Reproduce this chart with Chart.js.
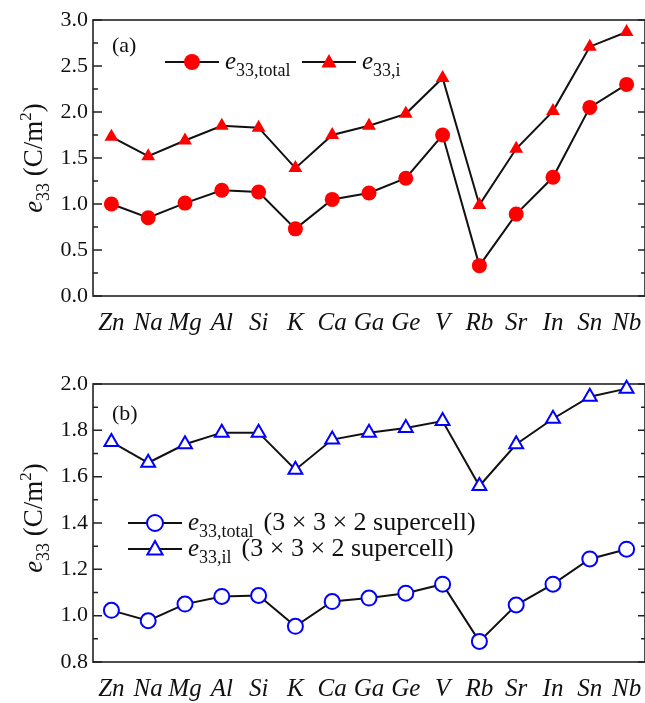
<!DOCTYPE html>
<html>
<head>
<meta charset="utf-8">
<script src="https://cdn.jsdelivr.net/npm/chart.js@4/dist/chart.umd.min.js"></script>
<style>
  html, body { margin: 0; background: #fff; overflow: hidden; }
  .panel { position: absolute; left: 0; width: 645px; }
  .panel canvas { display: block; }
  #wrapA { top: 0; height: 345px; }
  #wrapB { top: 345px; height: 358px; }
</style>
</head>
<body>
<div class="panel" id="wrapA"><canvas id="panelA"></canvas></div>
<div class="panel" id="wrapB"><canvas id="panelB"></canvas></div>
<script>
// dopants along the x axis
const elements = ["Zn", "Na", "Mg", "Al", "Si", "K", "Ca", "Ga", "Ge", "V", "Rb", "Sr", "In", "Sn", "Nb"];

// panel (a)
const totalA = [1.00, 0.85, 1.01, 1.15, 1.13, 0.73, 1.05, 1.12, 1.28, 1.75, 0.33, 0.89, 1.29, 2.05, 2.30];
const ionicA = [1.73, 1.52, 1.69, 1.85, 1.83, 1.39, 1.75, 1.85, 1.98, 2.37, 0.99, 1.60, 2.01, 2.71, 2.87];

// panel (b), 3x3x2 supercell
const totalB = [1.023, 0.978, 1.05, 1.083, 1.087, 0.954, 1.061, 1.076, 1.097, 1.136, 0.889, 1.046, 1.136, 1.245, 1.287];
const ionicB = [1.75, 1.66, 1.74, 1.79, 1.79, 1.63, 1.76, 1.79, 1.81, 1.84, 1.56, 1.74, 1.85, 1.945, 1.98];

const serif = "'Liberation Serif', 'DejaVu Serif', serif";
const cellText = "(3 \u00d7 3 \u00d7 2 supercell)";

// text with an italic e and a subscript
function drawSub(ctx, x, y, sub, rest, size) {
    ctx.font = "italic " + size + "px " + serif;
    ctx.fillText("e", x, y);
    x += ctx.measureText("e").width;
    ctx.font = "18px " + serif;
    ctx.fillText(sub, x, y + 7);
    x += ctx.measureText(sub).width;
    if (rest) {
        ctx.font = "26px " + serif;
        ctx.fillText(rest, x + 10, y);
    }
}

function drawMarker(ctx, x, y, style, color, filled, r) {
    ctx.beginPath();
    if (style === "circle") {
        ctx.arc(x, y, r, 0, Math.PI * 2);
    } else {
        ctx.moveTo(x, y - r);
        ctx.lineTo(x + r * 0.95, y + r * 0.7);
        ctx.lineTo(x - r * 0.95, y + r * 0.7);
        ctx.closePath();
    }
    if (filled) {
        ctx.fillStyle = color;
        ctx.fill();
    } else {
        ctx.fillStyle = "#fff";
        ctx.fill();
        ctx.lineWidth = 2;
        ctx.strokeStyle = color;
        ctx.stroke();
    }
}

function makeDecor(cfg) {
    return {
        id: "decor",
        beforeDatasetsDraw(chart) {
            const ctx = chart.ctx;
            const a = chart.chartArea;
            const y = chart.scales.y;
            ctx.save();

            // frame
            ctx.strokeStyle = "#222";
            ctx.lineWidth = 1.6;
            ctx.strokeRect(a.left, a.top, a.right - a.left, a.bottom - a.top);

            // inward ticks, major and minor
            ctx.lineWidth = 1.5;
            const ticks = y.ticks;
            ticks.forEach(function(t, i) {
                const p = y.getPixelForValue(t.value);
                ctx.beginPath();
                ctx.moveTo(a.left, p); ctx.lineTo(a.left + 9, p);
                ctx.moveTo(a.right, p); ctx.lineTo(a.right - 7, p);
                ctx.stroke();
                if (i < ticks.length - 1) {
                    const m = y.getPixelForValue((t.value + ticks[i + 1].value) / 2);
                    ctx.beginPath();
                    ctx.moveTo(a.left, m); ctx.lineTo(a.left + 5, m);
                    ctx.moveTo(a.right, m); ctx.lineTo(a.right - 4, m);
                    ctx.stroke();
                }
            });
            ctx.restore();
        },
        afterDraw(chart) {
            const ctx = chart.ctx;
            const a = chart.chartArea;
            ctx.save();

            // panel letter
            ctx.fillStyle = "#111";
            ctx.textBaseline = "alphabetic";
            ctx.font = "22px " + serif;
            ctx.fillText(cfg.letter, a.left + 19, a.top + cfg.letterY);

            // legend
            cfg.legend.forEach(function(item) {
                ctx.strokeStyle = "#111";
                ctx.lineWidth = 2;
                ctx.beginPath();
                ctx.moveTo(item.x, item.y);
                ctx.lineTo(item.x + 54, item.y);
                ctx.stroke();
                drawMarker(ctx, item.x + 27, item.y, item.style, item.color, item.filled, 8);
                ctx.fillStyle = "#111";
                drawSub(ctx, item.x + 60, item.y + 7, item.sub, item.rest, 25);
            });

            // y axis title: e33 (C/m2)
            ctx.translate(42, (a.top + a.bottom) / 2 + cfg.titleShift);
            ctx.rotate(-Math.PI / 2);
            ctx.font = "italic 27px " + serif;
            const w1 = ctx.measureText("e").width;
            ctx.font = "18px " + serif;
            const w2 = ctx.measureText("33").width;
            ctx.font = "27px " + serif;
            const w3 = ctx.measureText(" (C/m").width;
            ctx.font = "17px " + serif;
            const w4 = ctx.measureText("2").width;
            ctx.font = "27px " + serif;
            const w5 = ctx.measureText(")").width;
            let x = -(w1 + w2 + w3 + w4 + w5) / 2;
            ctx.fillStyle = "#111";
            ctx.font = "italic 27px " + serif;
            ctx.fillText("e", x, 0); x += w1;
            ctx.font = "18px " + serif;
            ctx.fillText("33", x, 7); x += w2;
            ctx.font = "27px " + serif;
            ctx.fillText(" (C/m", x, 0); x += w3;
            ctx.font = "17px " + serif;
            ctx.fillText("2", x, -11); x += w4;
            ctx.font = "27px " + serif;
            ctx.fillText(")", x, 0);
            ctx.restore();
        }
    };
}

function series(data, style, color, filled) {
    return {
        data: data,
        borderColor: "#111",
        borderWidth: 2,
        pointStyle: style,
        pointRadius: style === "triangle" ? 8 : 7.5,
        pointBackgroundColor: filled ? color : "#fff",
        pointBorderColor: color,
        pointBorderWidth: filled ? 0 : 2,
        tension: 0,
        clip: false
    };
}

function buildPanel(id, datasets, yMin, yMax, step, xHeight, top, decor) {
    return new Chart(document.getElementById(id), {
        type: "line",
        data: { labels: elements, datasets: datasets },
        options: {
            responsive: true,
            maintainAspectRatio: false,
            animation: false,
            layout: { autoPadding: false, padding: { left: 0, right: 0, top: top, bottom: 0 } },
            plugins: { legend: { display: false }, tooltip: { enabled: false } },
            scales: {
                x: {
                    offset: true,
                    grid: { display: false, drawTicks: false },
                    border: { display: false },
                    ticks: {
                        color: "#111",
                        padding: 12,
                        autoSkip: false,
                        maxRotation: 0,
                        minRotation: 0,
                        font: { family: serif, size: 25, style: "italic" }
                    },
                    afterFit: function(s) {
                        s.height = xHeight;
                        s.paddingLeft = 0;
                        s.paddingRight = 0;
                    }
                },
                y: {
                    min: yMin,
                    max: yMax,
                    grid: { display: false, drawTicks: false },
                    border: { display: false },
                    ticks: {
                        stepSize: step,
                        color: "#111",
                        padding: 5,
                        font: { family: serif, size: 22 },
                        callback: function(v) { return v.toFixed(1); }
                    },
                    afterFit: function(s) { s.width = 93; }
                }
            }
        },
        plugins: [decor]
    });
}

document.addEventListener("DOMContentLoaded", function() {
    buildPanel("panelA", [
        series(totalA, "circle", "#ff0000", true),
        series(ionicA, "triangle", "#ff0000", true)
    ], 0, 3, 0.5, 49, 20, makeDecor({
        letter: "(a)",
        letterY: 32,
        titleShift: 0,
        legend: [
            { x: 165, y: 62, style: "circle", color: "#ff0000", filled: true, sub: "33,total" },
            { x: 302, y: 62, style: "triangle", color: "#ff0000", filled: true, sub: "33,i" }
        ]
    }));

    buildPanel("panelB", [
        series(totalB, "circle", "#0000ff", false),
        series(ionicB, "triangle", "#0000ff", false)
    ], 0.8, 2.0, 0.2, 41, 39, makeDecor({
        letter: "(b)",
        letterY: 36,
        titleShift: -5,
        legend: [
            { x: 128, y: 178, style: "circle", color: "#0000ff", filled: false, sub: "33,total", rest: cellText },
            { x: 128, y: 204, style: "triangle", color: "#0000ff", filled: false, sub: "33,il", rest: cellText }
        ]
    }));
});
</script>
</body>
</html>
